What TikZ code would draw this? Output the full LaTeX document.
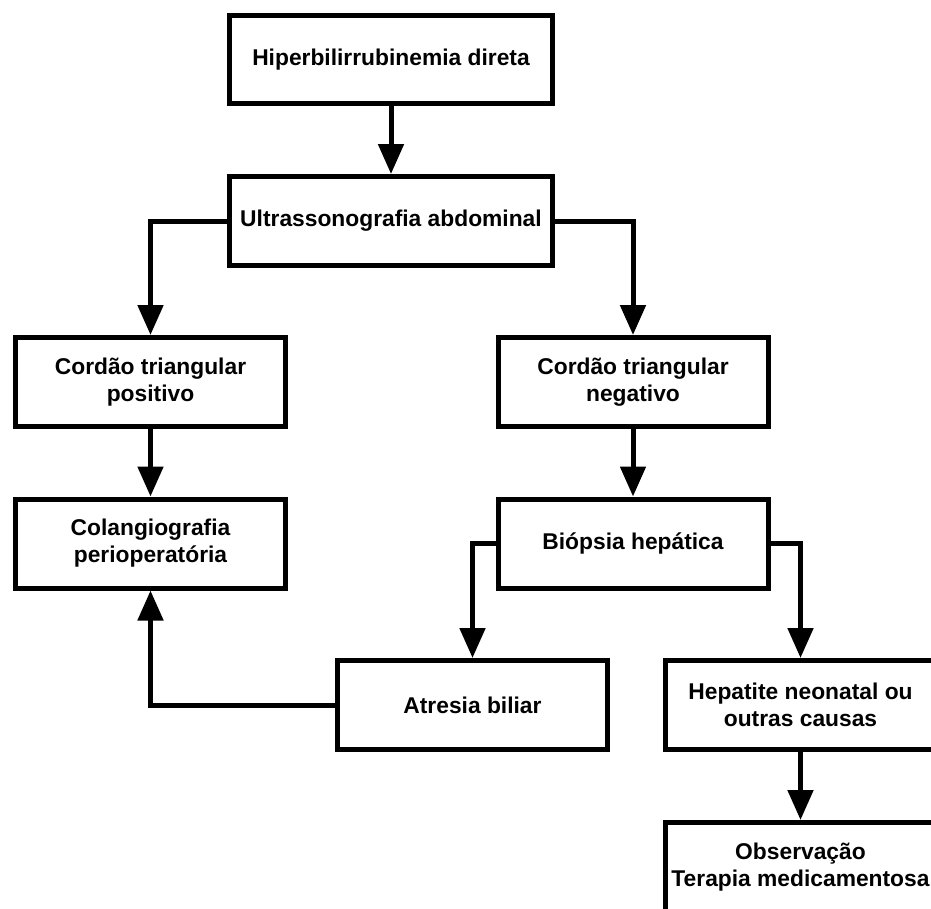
\documentclass[tikz,border=0pt]{standalone}
\usepackage{fontspec}
\setmainfont{Liberation Sans}
\usetikzlibrary{arrows.meta}

\tikzset{
    flowbox/.style={draw, line width=5pt, fill=white, align=center,
        minimum width=270pt, minimum height=89pt, inner sep=0pt,
        font=\bfseries\fontsize{22.8}{27}\selectfont},
    flowarrow/.style={line width=5pt, -{Triangle[width=25pt,length=30pt]}},
    flowline/.style={line width=5pt}
}

\begin{document}
\begin{tikzpicture}[x=1pt, y=-1pt]
    \useasboundingbox (0,0) rectangle (931,908);
    \clip (0,0) rectangle (931,908);
    \node[flowbox, minimum width=323pt, minimum height=88pt] (hiper) at (391,59.5) {Hiperbilirrubinemia direta};
    \node[flowbox] (usg) at (391,221) [minimum width=323pt] {Ultrassonografia abdominal};
    \node[flowbox] (cpos) at (150.5,382) {Cordão triangular\\positivo};
    \node[flowbox] (cneg) at (633,382) {Cordão triangular\\negativo};
    \node[flowbox] (colang) at (150.5,543.5) {Colangiografia\\perioperatória};
    \node[flowbox] (biopsia) at (633,543.5) {Biópsia hepática};
    \node[flowbox] (atresia) at (472.5,705) {Atresia biliar};
    \node[flowbox] (hepatite) at (800.5,705) {Hepatite neonatal ou\\outras causas};
    \node[flowbox] (obs) at (800.5,867) {Observação\\Terapia medicamentosa};
    \draw[flowarrow]
    (hiper) -- (usg);
    \draw[flowarrow] (usg.west) -| (cpos.north);
    \draw[flowarrow] (usg.east) -| (cneg.north);
    \draw[flowarrow] (cpos) -- (colang);
    \draw[flowarrow] (cneg) -- (biopsia);
    \draw[flowarrow] (biopsia.west) -| (atresia.north);
    \draw[flowarrow] (biopsia.east) -| (hepatite.north);
    \draw[flowarrow] (hepatite) -- (obs);
    \draw[flowarrow] (atresia.west) -| (colang.south);
\end{tikzpicture}
\end{document}
